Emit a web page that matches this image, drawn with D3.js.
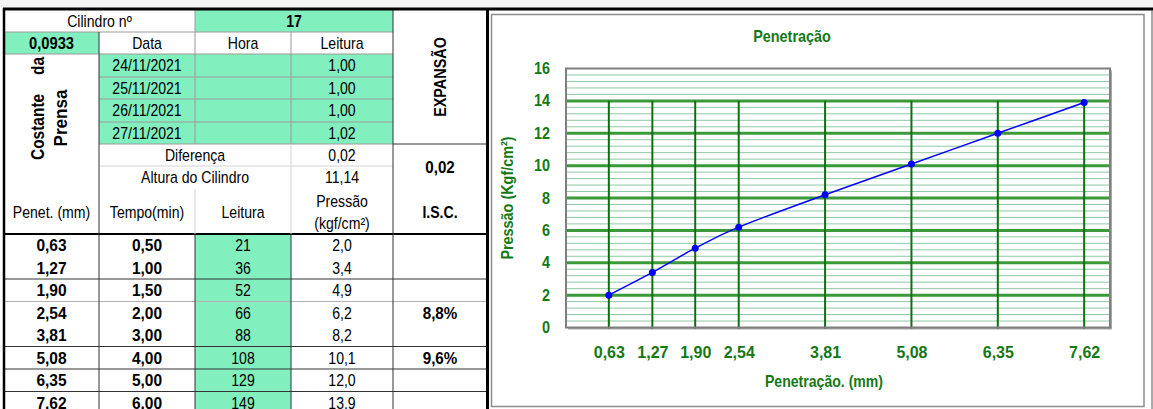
<!DOCTYPE html>
<html><head><meta charset="utf-8">
<script src="https://cdn.jsdelivr.net/npm/d3@7"></script>
<style>body{margin:0;background:#fff}svg{display:block}</style>
</head><body>
<script>
// ---------- data ----------
const cilindroNo = "17";
const constantePrensa = "0,0933";
const expDates = ["24/11/2021","25/11/2021","26/11/2021","27/11/2021"];
const expLeituras = [1.00, 1.00, 1.00, 1.02];
const diferenca = 0.02;
const alturaCilindro = 11.14;
const expansao = 0.02;
const penetracao = [0.63, 1.27, 1.90, 2.54, 3.81, 5.08, 6.35, 7.62];
const tempo = [0.50, 1.00, 1.50, 2.00, 3.00, 4.00, 5.00, 6.00];
const leitura = [21, 36, 52, 66, 88, 108, 129, 149];
const pressao = [2.0, 3.4, 4.9, 6.2, 8.2, 10.1, 12.0, 13.9];
const isc = ["", "", "", "8,8%", "", "9,6%", "", ""];
const yTicks = [0, 2, 4, 6, 8, 10, 12, 14, 16];

const W = 1153, H = 409;
const fmt = n => v => v.toFixed(n).replace('.', ',');
const GREEN_FILL = '#82efbf';
const TXT_GREEN = '#157815';
const FONT = '"Liberation Sans", Arial, sans-serif';
const SX = 0.88;

const svg = d3.select('body').append('svg').attr('width', W).attr('height', H);
svg.append('rect').attr('width', W).attr('height', H).attr('fill', '#fff');
svg.append('rect').attr('width', W).attr('height', 8).attr('fill', '#f4f4f4');

function T(parent, o) {
  const sx = o.sx ?? SX;
  const g = parent.append('g').attr('transform',
    `translate(${o.x},${o.y})` + (o.rot ? ` rotate(${o.rot})` : '') + ` scale(${sx},1)`);
  const t = g.append('text')
    .attr('text-anchor', o.anchor || 'middle')
    .attr('font-family', FONT)
    .attr('font-size', o.size || 16)
    .attr('font-weight', o.bold ? 'bold' : 'normal')
    .attr('fill', o.fill || '#000')
    .attr('dy', o.dy ?? '0.36em')
    .text(o.text);
  return t;
}
function hline(x1, x2, y, c, w) {
  svg.append('line').attr('x1', x1).attr('x2', x2).attr('y1', y).attr('y2', y)
    .attr('stroke', c).attr('stroke-width', w || 1);
}
function vline(x, y1, y2, c, w) {
  svg.append('line').attr('x1', x).attr('x2', x).attr('y1', y1).attr('y2', y2)
    .attr('stroke', c).attr('stroke-width', w || 1);
}

// ---------- table ----------
const colX = [4, 99, 195, 291, 393, 487];
const colC = d3.range(5).map(i => (colX[i] + colX[i + 1]) / 2);
const rowE = [10, 32, 54, 77, 99, 122, 144, 166, 189, 234];
const rowC = d3.range(9).map(i => (rowE[i] + rowE[i + 1]) / 2);
const dataRow = d3.scaleBand().domain(d3.range(penetracao.length)).range([234, 414]);

// fills
svg.append('rect').attr('x', colX[2]).attr('y', rowE[0]).attr('width', colX[4] - colX[2]).attr('height', rowE[1] - rowE[0]).attr('fill', GREEN_FILL);
svg.append('rect').attr('x', colX[0]).attr('y', rowE[1]).attr('width', colX[1] - colX[0]).attr('height', rowE[2] - rowE[1]).attr('fill', GREEN_FILL);
svg.append('rect').attr('x', colX[1]).attr('y', rowE[2]).attr('width', colX[4] - colX[1]).attr('height', rowE[6] - rowE[2]).attr('fill', GREEN_FILL);
svg.append('rect').attr('x', colX[2]).attr('y', 234).attr('width', colX[3] - colX[2]).attr('height', H - 234).attr('fill', GREEN_FILL);

// grid lines
const G = '#9a9a9a', LG = '#d2d2d2', D = '#333';
hline(4, 393, 32, G); hline(4, 393, 54, G);
[77, 99, 122, 144].forEach(y => hline(99, 393, y, G));
hline(393, 487, 144, D);
hline(99, 393, 166, LG);
hline(4, 487, 234, '#000', 2);
dataRow.domain().slice(1).forEach(i => {
  const y = dataRow(i);
  if (i === 1 || i === 4) return;
  hline(4, 487, y, i === 3 ? '#b4b4b4' : D);
});
vline(99, 32, H, D);
vline(195, 10, 32, G); vline(195, 32, 144, G); vline(195, 189, 234, LG); vline(195, 234, H, D);
vline(291, 32, 144, G); vline(291, 144, 234, LG); vline(291, 234, H, D);
vline(393, 10, H, D);

// header texts
T(svg, {x: (colX[0] + colX[2]) / 2, y: rowC[0], text: 'Cilindro nº'});
T(svg, {x: (colX[2] + colX[4]) / 2, y: rowC[0], text: cilindroNo, bold: true});
T(svg, {x: colC[0], y: rowC[1], text: constantePrensa, bold: true, sx: 0.92});
T(svg, {x: colC[1], y: rowC[1], text: 'Data'});
T(svg, {x: colC[2], y: rowC[1], text: 'Hora'});
T(svg, {x: colC[3], y: rowC[1], text: 'Leitura'});
expDates.forEach((d, i) => {
  T(svg, {x: colC[1], y: rowC[2 + i], text: d});
  T(svg, {x: colC[3], y: rowC[2 + i], text: fmt(2)(expLeituras[i])});
});
T(svg, {x: colX[2], y: rowC[6], text: 'Diferença'});
T(svg, {x: colC[3], y: rowC[6], text: fmt(2)(diferenca)});
T(svg, {x: colX[2], y: rowC[7], text: 'Altura do Cilindro'});
T(svg, {x: colC[3], y: rowC[7], text: fmt(2)(alturaCilindro)});
T(svg, {x: colC[4], y: 77, text: 'EXPANSÃO', bold: true, rot: -90, sx: 0.9});
T(svg, {x: colC[4], y: 167, text: fmt(2)(expansao), bold: true, sx: 0.95});
T(svg, {x: colC[4], y: 212, text: 'I.S.C.', bold: true});
// rotated "Costante da Prensa"
T(svg, {x: 38, y: 160, text: 'Costante', bold: true, size: 18, rot: -90, anchor: 'start', sx: 0.86});
T(svg, {x: 38, y: 57, text: 'da', bold: true, size: 18, rot: -90, anchor: 'end', sx: 0.86});
T(svg, {x: 61, y: 118, text: 'Prensa', bold: true, size: 18, rot: -90, sx: 0.95});
// column headers
T(svg, {x: colC[0], y: 212, text: 'Penet. (mm)'});
T(svg, {x: colC[1], y: 212, text: 'Tempo(min)'});
T(svg, {x: colC[2], y: 212, text: 'Leitura'});
T(svg, {x: colC[3], y: 201, text: 'Pressão'});
T(svg, {x: colC[3], y: 223, text: '(kgf/cm²)'});
// data rows
penetracao.forEach((p, i) => {
  const yc = dataRow(i) + dataRow.bandwidth() / 2;
  T(svg, {x: colC[0], y: yc, text: fmt(2)(p), bold: true, sx: 0.97});
  T(svg, {x: colC[1], y: yc, text: fmt(2)(tempo[i]), bold: true, sx: 0.97});
  T(svg, {x: colC[2], y: yc, text: String(leitura[i])});
  T(svg, {x: colC[3], y: yc, text: fmt(1)(pressao[i])});
  if (isc[i]) T(svg, {x: colC[4], y: yc, text: isc[i], bold: true, sx: 0.95});
});

// outer borders
hline(3, W, 9, '#000', 3);
vline(4, 8, H, '#000', 2.5);
vline(487.5, 8, H, '#000', 3);

// ---------- chart ----------
svg.append('rect').attr('x', 491.5).attr('y', 14.5).attr('width', 652.5).attr('height', 392)
  .attr('fill', '#fff').attr('stroke', '#8c8c8c').attr('stroke-width', 1.5);
vline(1152, 10, H, '#555', 1);

const x = d3.scaleLinear().domain([0, 8]).range([566, 1110]);
const y = d3.scaleLinear().domain([0, 16]).range([327.5, 68.5]);
const plot = svg.append('g');

// shadow
plot.append('rect').attr('x', x(0) + 2).attr('y', y(16) + 2).attr('width', x(8) - x(0)).attr('height', y(0) - y(16))
  .attr('fill', '#a8a8a8');
plot.append('rect').attr('x', x(0)).attr('y', y(16)).attr('width', x(8) - x(0)).attr('height', y(0) - y(16))
  .attr('fill', '#fff');

const minor = d3.range(1, 40).filter(i => i % 5 !== 0).map(i => i * 0.4);
plot.selectAll('.minor').data(minor).join('line')
  .attr('x1', x(0)).attr('x2', x(8)).attr('y1', d => y(d)).attr('y2', d => y(d))
  .attr('stroke', '#8fc7a6').attr('stroke-width', 1);
const major = yTicks.filter(d => d > 0 && d < 16);
plot.selectAll('.major').data(major).join('line')
  .attr('x1', x(0)).attr('x2', x(8)).attr('y1', d => y(d)).attr('y2', d => y(d))
  .attr('stroke', '#3a9a3a').attr('stroke-width', 3);
plot.selectAll('.vgrid').data(penetracao).join('line')
  .attr('x1', d => x(d)).attr('x2', d => x(d)).attr('y1', y(14)).attr('y2', y(0) + 1)
  .attr('stroke', '#0f6f0f').attr('stroke-width', 2);
plot.append('rect').attr('x', x(0)).attr('y', y(16)).attr('width', x(8) - x(0)).attr('height', y(0) - y(16))
  .attr('fill', 'none').attr('stroke', '#7f7f7f').attr('stroke-width', 2);

const pts = penetracao.map((p, i) => [p, pressao[i]]);
plot.append('path').datum(pts)
  .attr('d', d3.line().x(d => x(d[0])).y(d => y(d[1])).curve(d3.curveCatmullRom.alpha(0)))
  .attr('fill', 'none').attr('stroke', '#0000ff').attr('stroke-width', 1.5);
plot.selectAll('.pt').data(pts).join('circle')
  .attr('cx', d => x(d[0])).attr('cy', d => y(d[1])).attr('r', 3.5).attr('fill', '#0000ff');

// axes
function styleAxis(g, sx) {
  g.select('.domain').remove();
  g.selectAll('text')
    .attr('font-family', FONT).attr('font-size', 16).attr('font-weight', 'bold').attr('fill', TXT_GREEN)
    .each(function () {
      const t = d3.select(this);
      const xx = +t.attr('x') || 0;
      t.attr('x', xx / sx).attr('transform', `scale(${sx},1)`);
    });
}
const gy = svg.append('g').attr('transform', `translate(${x(0)},0)`)
  .call(d3.axisLeft(y).tickValues(yTicks).tickSize(0).tickPadding(16).tickFormat(d3.format('d')));
styleAxis(gy, 0.9);
const gx = svg.append('g').attr('transform', `translate(0,${y(0)})`)
  .call(d3.axisBottom(x).tickValues(penetracao).tickSize(0).tickPadding(19).tickFormat(fmt(2)));
styleAxis(gx, 1.0);

T(svg, {x: 792, y: 36, text: 'Penetração', bold: true, fill: TXT_GREEN, sx: 0.9});
T(svg, {x: 824, y: 381, text: 'Penetração. (mm)', bold: true, fill: TXT_GREEN, sx: 0.88});
T(svg, {x: 507, y: 198, text: 'Pressão (Kgf/cm²)', bold: true, fill: TXT_GREEN, rot: -90, sx: 0.9});
</script>
</body></html>
